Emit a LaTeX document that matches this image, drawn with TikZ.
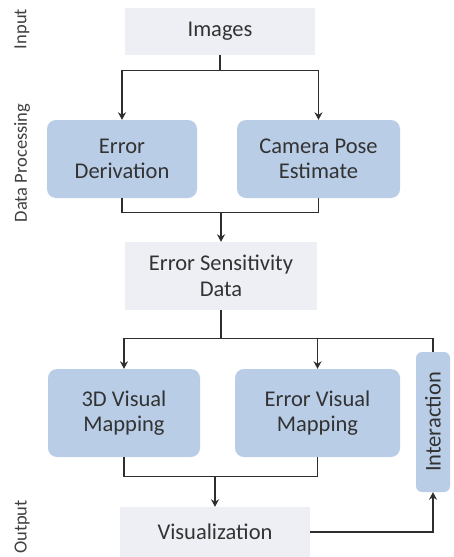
\documentclass[tikz,border=0pt]{standalone}
\usepackage{fontspec}
\setmainfont{Carlito}
\usetikzlibrary{arrows.meta,positioning,calc}
\definecolor{procblue}{HTML}{B9CDE7}
\definecolor{datagrey}{HTML}{EEEFF5}
\definecolor{lineg}{HTML}{2E2E2E}

\begin{document}
\begin{tikzpicture}[x=1pt,y=-1pt,>={Stealth[length=7.5pt,width=8pt]},
    every node/.style={font=\fontsize{22.5}{25.5}\selectfont,text=black!80,align=center},
    procbox/.style={fill=procblue,rounded corners=9pt,inner sep=0pt},
    databox/.style={fill=datagrey,inner sep=0pt},
    sidelabel/.style={rotate=90,font=\fontsize{18.5}{21}\selectfont,text=black!75},
    link/.style={draw=lineg,line width=1.2pt}]
    \useasboundingbox[fill=white] (0,0) rectangle (453,557);

    % stage labels
    \node[sidelabel] (lin)  at (22,29)  {Input};
    \node[sidelabel] (lproc) at (22,163) {Data Processing};
    \node[sidelabel] (lout) at (22,527) {Output};

    \node[databox,minimum width=190pt,minimum height=47pt] (img) at (220,31) {Images};
    \node[procbox,minimum width=150pt,minimum height=78pt] (errd) at (122,159) {Error\\Derivation};
    \node[procbox,minimum width=163pt,minimum height=78pt] (cam) at (318.5,159) {Camera Pose\\Estimate};
    \node[databox,minimum width=192pt,minimum height=68pt] (esd) at (221,276) {Error Sensitivity\\Data};
    \node[procbox,minimum width=152pt,minimum height=88pt] (vmap) at (124,413) {3D Visual\\Mapping};
    \node[procbox,minimum width=165pt,minimum height=88pt] (emap) at (317.5,413) {Error Visual\\Mapping};
    \node[procbox,minimum width=140pt,minimum height=34pt,rotate=90,rounded corners=6pt] (inter) at (433,422) {Interaction};
    \node[databox,minimum width=190pt,minimum height=50pt] (vis) at (215,532) {Visualization};

    % images to processing
    \coordinate (s1) at ($(img.south)+(0,16)$);
    \draw[link] (img.south) -- (s1);
    \draw[link,->] (s1) -| (errd.north);
    \draw[link,->] (s1) -| (cam.north);

    % processing to sensitivity data
    \coordinate (m1) at ($(esd.north)+(0,-29)$);
    \draw[link] (errd.south) |- (m1) -| (cam.south);
    \draw[link,->] (m1) -- (esd.north);

    % sensitivity data to mapping
    \coordinate (s2) at ($(esd.south)+(0,28)$);
    \draw[link] (esd.south) -- (s2);
    \draw[link,->] (s2) -| (vmap.north);
    \draw[link,->] (s2) -| (emap.north);
    \draw[link] (s2) -| (inter.east);

    % mapping to visualization
    \coordinate (m2) at ($(vis.north)+(0,-30)$);
    \draw[link] (vmap.south) |- (m2) -| (emap.south);
    \draw[link,->] (m2) -- (vis.north);

    % feedback
    \draw[link,->] (vis.east) -| (inter.west);
  \end{tikzpicture}
\end{document}
